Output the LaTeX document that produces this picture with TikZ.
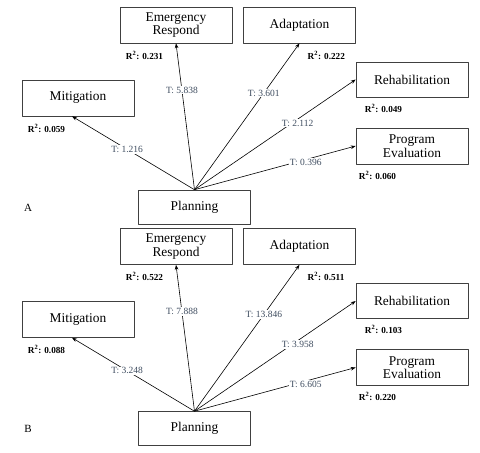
\documentclass[tikz,border=0pt]{standalone}
\usepackage{fontspec}
\setmainfont{Liberation Serif}
\usepackage{tikz}
\usetikzlibrary{arrows.meta, positioning, calc}
\definecolor{tgray}{HTML}{3F4D60}

\tikzset{
    construct/.style={draw=black!75, line width=0.6pt, minimum width=112pt, minimum height=36pt,
                      inner sep=1pt, align=center, font=\fontsize{13.4}{13.4}\selectfont},
    path/.style={-{Stealth[length=5pt, width=3.6pt]}, line width=0.6pt},
    tval/.style={fill=white, inner sep=1pt, text=tgray, font=\fontsize{9.5}{10}\selectfont},
    rsq/.style={anchor=west, inner sep=0pt, font=\fontsize{9.2}{10}\selectfont\bfseries},
    panel/.style={font=\fontsize{11}{12}\selectfont}
}

\begin{document}
\begin{tikzpicture}[x=1pt, y=-1pt, line join=round]
        \useasboundingbox (0,0) rectangle (480,453);
        % --- A ---
        \begin{scope}
            \node[panel] (lblA) at (28,208) {A};
            \node[construct, minimum height=34pt] (planA) at (194.5,207) {Planning};
            \node[construct] (mitA) at (78,98) {Mitigation};
            \node[construct] (emA) at (176,25) {Emergency\\Respond};
            \node[construct] (adA) at (299.5,25) {Adaptation};
            \node[construct, minimum height=35pt] (rhA) at (412,79.5) {Rehabilitation};
            \node[construct] (peA) at (412,146) {Program\\Evaluation};
            \node[rsq] (rmitA) at ([xshift=6pt, yshift=-12pt]mitA.south west) {R\textsuperscript{2}: 0.059};
            \node[rsq] (remA) at ([xshift=6pt, yshift=-12pt]emA.south west) {R\textsuperscript{2}: 0.231};
            \node[rsq] (radA) at ([xshift=8pt, yshift=-12pt]adA.south) {R\textsuperscript{2}: 0.222};
            \node[rsq] (rrhA) at ([xshift=9pt, yshift=-11pt]rhA.south west) {R\textsuperscript{2}: 0.049};
            \node[rsq] (rpeA) at ([xshift=3pt, yshift=-11pt]peA.south west) {R\textsuperscript{2}: 0.060};
            \draw[path] (planA.north) -- node[tval, pos=0.55] {T: 1.216} ([xshift=-6pt]mitA.south);
            \draw[path] (planA.north) -- node[tval, pos=0.68] {T: 5.838} (emA.south);
            \draw[path] (planA.north) -- node[tval, pos=0.66] {T: 3.601} (adA.south);
            \draw[path] (planA.north) -- node[tval, pos=0.64, yshift=-4pt] {T: 2.112} (rhA.west);
            \draw[path] (planA.north) -- node[tval, pos=0.69, yshift=-3pt] {T: 0.396} (peA.west);
        \end{scope}
        % --- B ---
        \begin{scope}[yshift=-221.5pt]
            \node[panel] (lblB) at (28,207) {B};
            \node[construct, minimum height=34pt] (planB) at (194.5,207) {Planning};
            \node[construct] (mitB) at (78,98) {Mitigation};
            \node[construct] (emB) at (176,25) {Emergency\\Respond};
            \node[construct] (adB) at (299.5,25) {Adaptation};
            \node[construct, minimum height=35pt] (rhB) at (412,79.5) {Rehabilitation};
            \node[construct] (peB) at (412,146) {Program\\Evaluation};
            \node[rsq] (rmitB) at ([xshift=6pt, yshift=-12pt]mitB.south west) {R\textsuperscript{2}: 0.088};
            \node[rsq] (remB) at ([xshift=6pt, yshift=-12pt]emB.south west) {R\textsuperscript{2}: 0.522};
            \node[rsq] (radB) at ([xshift=8pt, yshift=-12pt]adB.south) {R\textsuperscript{2}: 0.511};
            \node[rsq] (rrhB) at ([xshift=9pt, yshift=-11pt]rhB.south west) {R\textsuperscript{2}: 0.103};
            \node[rsq] (rpeB) at ([xshift=3pt, yshift=-11pt]peB.south west) {R\textsuperscript{2}: 0.220};
            \draw[path] (planB.north) -- node[tval, pos=0.55] {T: 3.248} ([xshift=-6pt]mitB.south);
            \draw[path] (planB.north) -- node[tval, pos=0.68] {T: 7.888} (emB.south);
            \draw[path] (planB.north) -- node[tval, pos=0.66] {T: 13.846} (adB.south);
            \draw[path] (planB.north) -- node[tval, pos=0.64, yshift=-4pt] {T: 3.958} (rhB.west);
            \draw[path] (planB.north) -- node[tval, pos=0.69, yshift=-3pt] {T: 6.605} (peB.west);
        \end{scope}
    \end{tikzpicture}
\end{document}
